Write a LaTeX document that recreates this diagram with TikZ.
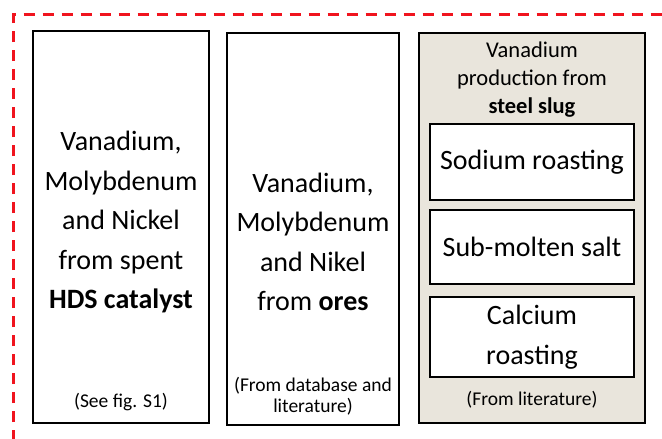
\documentclass[tikz,border=0pt]{standalone}
\usepackage{fontspec}
\setmainfont{Carlito}
\definecolor{beige}{RGB}{233,229,220}
\definecolor{dashred}{RGB}{240,20,30}
\begin{document}
\begin{tikzpicture}[x=1pt,y=-1pt,
  outerbox/.style={draw=black,line width=2pt,minimum width=#1,inner sep=0pt},
  innerbox/.style={draw=black,line width=2pt,fill=white,minimum width=204pt,inner sep=0pt},
  bigtext/.style={align=center,inner sep=0pt,font=\fontsize{28}{39.5}\selectfont},
  headtext/.style={align=center,inner sep=0pt,font=\fontsize{22.5}{28}\selectfont},
  smalltext/.style={align=center,inner sep=0pt,font=\fontsize{19.5}{21}\selectfont}]
\useasboundingbox (0,0) rectangle (662,439);
% red dashed frame (top and left sides visible)
\coordinate (fr) at (680,14.3);
\coordinate (fc) at (13.3,14.3);
\coordinate (fb) at (13.3,460);
\draw[dashred,line width=3pt,dash pattern=on 11pt off 8pt] (fb) -- (fc) -- (fr);
% outer boxes
\node[outerbox=176pt,minimum height=392pt] (box1) at (121,227) {};
\node[outerbox=172pt,minimum height=392pt] (box2) at (313,229) {};
\node[outerbox=226pt,minimum height=390pt,fill=beige,line width=2.3pt] (box3) at (532,228) {};
% inner boxes
\node[innerbox,minimum height=76pt] (sod) at (532,162) {};
\node[innerbox,minimum height=74pt] (sub) at (532,247) {};
\node[innerbox,minimum height=80pt] (cal) at (532,337) {};
% texts
\node[bigtext] (t1) at (121,222) {Vanadium,\\Molybdenum\\and Nickel\\from spent\\\textbf{HDS catalyst}};
\node[smalltext] (s1) at (121,402) {(See fig. S1)};
\node[bigtext] (t2) at (313,242) {Vanadium,\\Molybdenum\\and Nikel\\from \textbf{ores}};
\node[smalltext] (s2) at (313,396) {(From database and\\literature)};
\node[headtext] (h3) at (532,80) {Vanadium\\production from\\\textbf{steel slug}};
\node[bigtext] (tsod) at (sod.center) {Sodium roasting};
\node[bigtext] (tsub) at (sub.center) {Sub-molten salt};
\node[bigtext] (tcal) at (cal.center) {Calcium\\roasting};
\node[smalltext] (s3) at (532,400) {(From literature)};
\end{tikzpicture}
\end{document}
